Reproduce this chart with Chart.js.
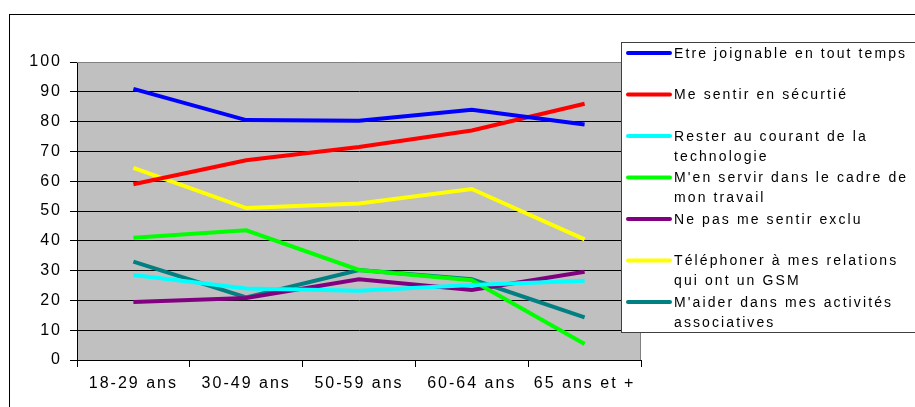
<!DOCTYPE html>
<html>
<head>
<meta charset="utf-8">
<script src="https://cdn.jsdelivr.net/npm/chart.js@4"></script>
<style>
  html, body { margin: 0; padding: 0; background: #fff; }
  #wrap { width: 915px; height: 407px; }
</style>
</head>
<body>
<div id="wrap"><canvas id="graphique" width="915" height="407"></canvas></div>
<script>
const categories = ["18-29 ans", "30-49 ans", "50-59 ans", "60-64 ans", "65 ans et +"];

const joignable = [91, 80.5, 80.3, 84, 79];
const securite = [59, 67, 71.5, 77, 86];
const technologie = [28.5, 24, 23.2, 25.2, 26.6];
const travail = [41, 43.5, 30.2, 26.8, 5.4];
const exclu = [19.5, 20.8, 27.1, 23.5, 29.6];
const relations = [64.5, 51, 52.5, 57.4, 40.5];
const associatives = [33, 21, 30.2, 27.1, 14.3];

const seriesLabels = [
    ["Etre joignable en tout temps"],
    ["Me sentir en sécurtié"],
    ["Rester au courant de la", "technologie"],
    ["M'en servir dans le cadre de", "mon travail"],
    ["Ne pas me sentir exclu"],
    ["Téléphoner à mes relations", "qui ont un GSM"],
    ["M'aider dans mes activités", "associatives"]
];
const seriesColors = ["#0000FF", "#FF0000", "#00FFFF", "#00FF00", "#800080", "#FFFF00", "#008080"];
const seriesData = [joignable, securite, technologie, travail, exclu, relations, associatives];

const yTicks = [0, 10, 20, 30, 40, 50, 60, 70, 80, 90, 100];

const FONT = "'Liberation Sans', Arial, sans-serif";

// fond gris de la zone de tracé + cadre extérieur
const fond = {
    id: "fond",
    beforeDraw(chart) {
        const c = chart.ctx, a = chart.chartArea;
        c.save();
        c.fillStyle = "#C0C0C0";
        c.fillRect(a.left, a.top, a.right - a.left, a.bottom - a.top);
        c.strokeStyle = "#000";
        c.lineWidth = 1;
        c.strokeRect(9.5, 14.5, 1000, 500);
        c.restore();
        c.letterSpacing = "2px";
    },
    afterDatasetsDraw(chart) {
        const c = chart.ctx, a = chart.chartArea;
        c.save();
        c.strokeStyle = "#808080";
        c.lineWidth = 1;
        c.beginPath();
        c.moveTo(a.left, a.top + 0.5);
        c.lineTo(a.right - 0.5, a.top + 0.5);
        c.lineTo(a.right - 0.5, a.bottom);
        c.stroke();
        c.restore();
    }
};

// légende dessinée à la main, posée sur le graphique
const legende = {
    id: "legende",
    afterDraw(chart) {
        const c = chart.ctx;
        c.save();
        c.fillStyle = "#fff";
        c.fillRect(621, 42, 300, 291);
        c.strokeStyle = "#404040";
        c.lineWidth = 1;
        c.strokeRect(621.5, 42.5, 300, 290);
        c.font = "14px " + FONT;
        c.letterSpacing = "2.1px";
        c.textBaseline = "middle";
        c.fillStyle = "#000";
        chart.data.datasets.forEach((ds, i) => {
            const y = 53 + i * 41.5;
            c.strokeStyle = ds.borderColor;
            c.lineWidth = 4;
            c.lineCap = "round";
            c.beginPath();
            c.moveTo(628, y);
            c.lineTo(670, y);
            c.stroke();
            seriesLabels[i].forEach((t, k) => {
                c.fillText(t, 674, y + 1 + k * 20);
            });
        });
        c.restore();
    }
};

const ctx = document.getElementById("graphique").getContext("2d");
const graphique = new Chart(ctx, {
    type: "line",
    data: {
        labels: categories,
        datasets: seriesData.map((d, i) => ({
            label: seriesLabels[i].join(" "),
            data: d,
            borderColor: seriesColors[i],
            backgroundColor: seriesColors[i],
            borderWidth: 4,
            pointRadius: 0,
            tension: 0,
            fill: false
        }))
    },
    options: {
        responsive: false,
        animation: false,
        layout: { padding: { left: 0, top: 62, right: 274, bottom: 0 } },
        plugins: {
            legend: { display: false },
            tooltip: { enabled: false }
        },
        scales: {
            x: {
                offset: true,
                afterFit(s) { s.height = 47; },
                grid: {
                    offset: true,
                    drawOnChartArea: false,
                    tickLength: 7,
                    tickColor: "#000"
                },
                border: { color: "#000", width: 1 },
                ticks: {
                    color: "#000",
                    font: { family: FONT, size: 16 },
                    padding: 7,
                    maxRotation: 0
                }
            },
            y: {
                min: 0,
                max: 100,
                afterFit(s) { s.width = 77; },
                afterBuildTicks(s) { s.ticks = yTicks.map(v => ({ value: v })); },
                grid: {
                    color: c => (c.tick && c.tick.value === 100) ? "rgba(0,0,0,0)" : "#000",
                    tickColor: "#000",
                    tickLength: 7,
                    lineWidth: 1
                },
                border: { color: "#000", width: 1 },
                ticks: {
                    color: "#000",
                    font: { family: FONT, size: 16 },
                    padding: 8
                }
            }
        }
    },
    plugins: [fond, legende]
});
</script>
</body>
</html>
